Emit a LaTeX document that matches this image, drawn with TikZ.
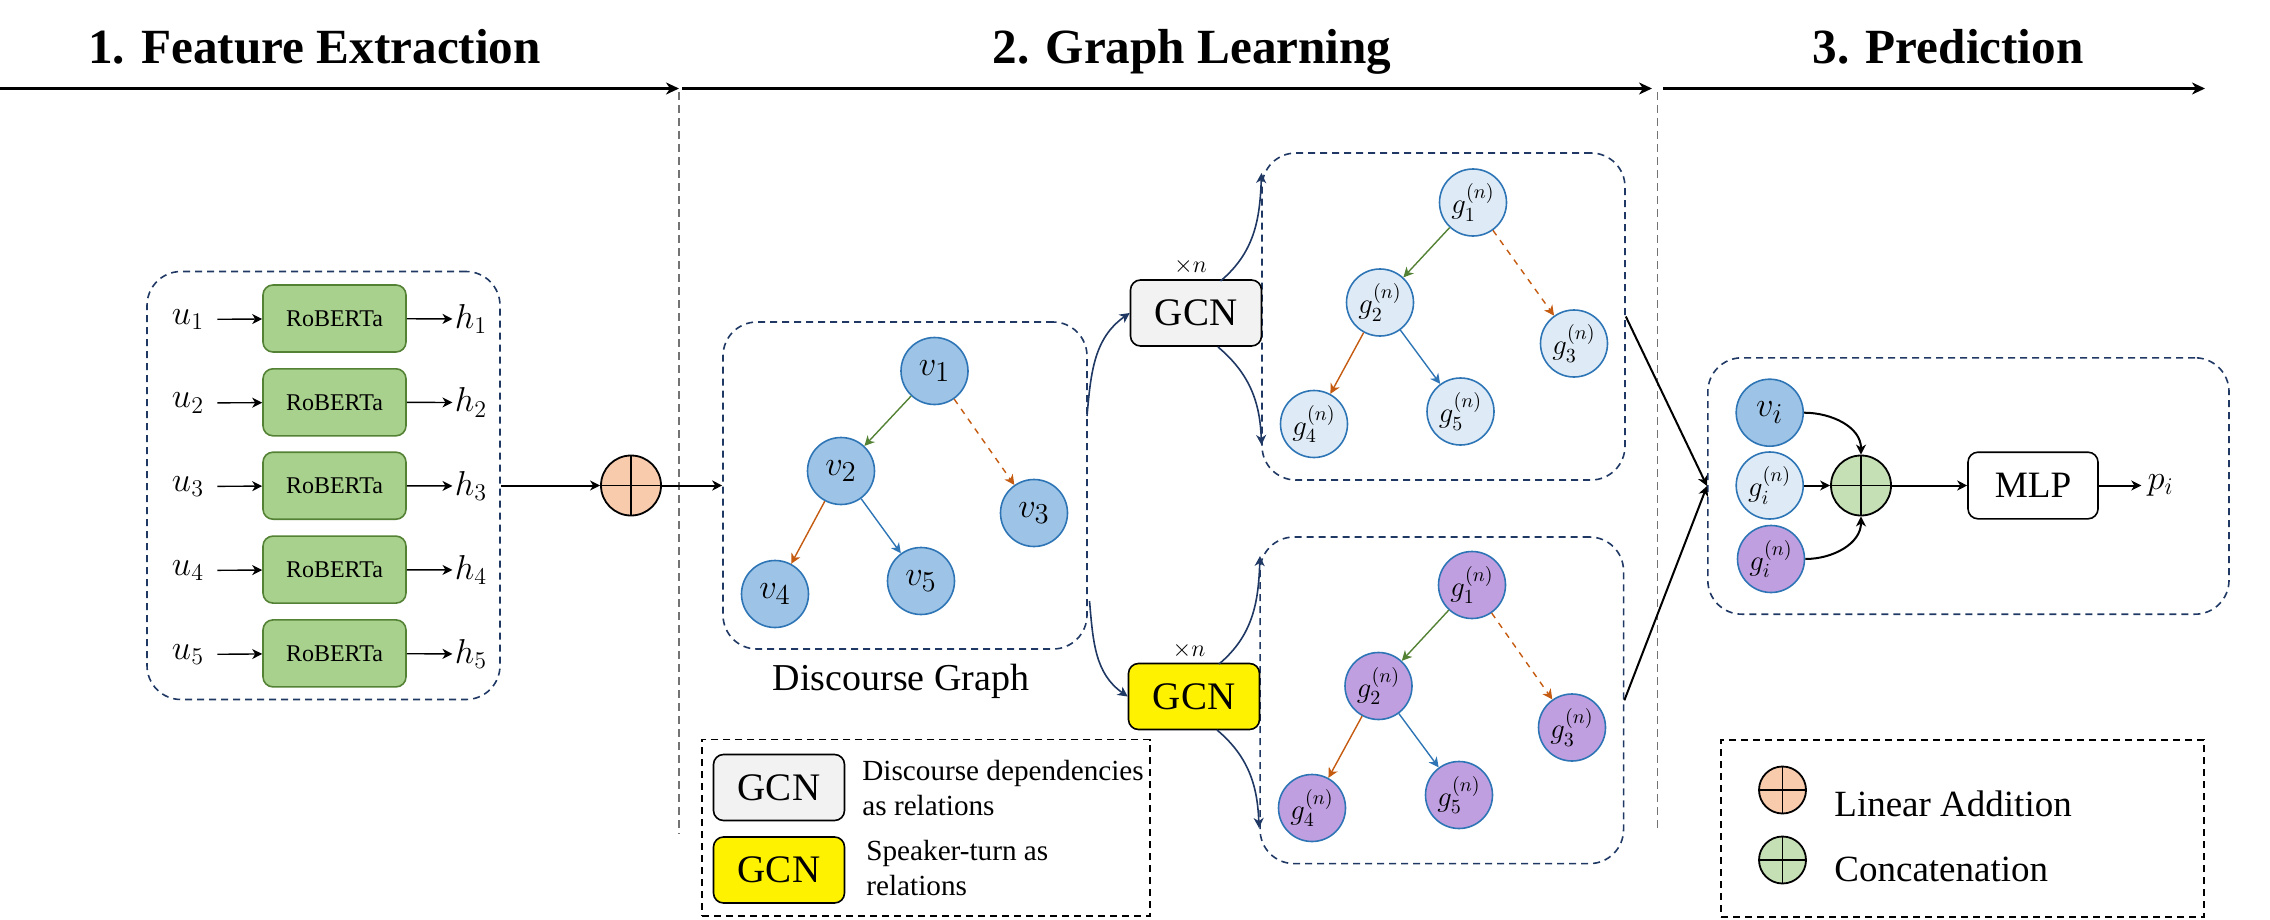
\documentclass[tikz,border=0pt]{standalone}
\usepackage{amsmath,amssymb}
\usepackage{fontspec}
\setmainfont{Liberation Serif}
\usetikzlibrary{arrows.meta}
\definecolor{boxNavy}{HTML}{203864}
\definecolor{nodeBlue}{HTML}{9DC3E6}
\definecolor{nodeLight}{HTML}{DEEBF7}
\definecolor{nodePurple}{HTML}{BF9FE0}
\definecolor{lineBlue}{HTML}{2E75B6}
\definecolor{lineGreen}{HTML}{548235}
\definecolor{lineOrange}{HTML}{C55A11}
\definecolor{bertGreen}{HTML}{A9D18E}
\definecolor{plusOrange}{HTML}{F8CBAD}
\definecolor{plusGreen}{HTML}{C5E0B4}
\begin{document}
\begin{tikzpicture}[
		x=0.5pt, y=-0.5pt,
		heading/.style={anchor=base, inner sep=0pt, font=\fontsize{24.6}{28}\selectfont\bfseries},
		headArrow/.style={-{Stealth[length=6.5pt, width=6pt, inset=2pt]}, line width=1.2pt},
		divider/.style={dash pattern=on 4pt off 2.5pt, draw=black!55, line width=0.7pt},
		regionBox/.style={rectangle, rounded corners=17pt, draw=boxNavy, dash pattern=on 3.5pt off 2.5pt, line width=0.8pt},
		legendBox/.style={rectangle, draw=black, dash pattern=on 3.5pt off 2.5pt, line width=0.8pt},
		bertBox/.style={rectangle, rounded corners=5pt, draw=lineGreen, fill=bertGreen, line width=0.8pt, minimum width=71.5pt, minimum height=33.5pt, inner sep=0pt, font=\fontsize{12}{14}\selectfont},
		gcnBox/.style={rectangle, rounded corners=5pt, draw=black, line width=0.8pt, minimum width=65.5pt, minimum height=33pt, inner sep=0pt, font=\fontsize{19.5}{22}\selectfont},
		treeNode/.style={circle, draw=lineBlue, line width=0.8pt, inner sep=0pt, minimum size=33.5pt},
		nodeV/.style={treeNode, fill=nodeBlue, font=\fontsize{19}{22}\selectfont},
		nodeG/.style={treeNode, fill=nodeLight, font=\fontsize{14.5}{16}\selectfont},
		nodeP/.style={treeNode, fill=nodePurple, font=\fontsize{14.5}{16}\selectfont},
		plusNode/.style={circle, draw=black, line width=0.9pt, inner sep=0pt, minimum size=#1,
			path picture={
				\draw [line width=0.9pt] (path picture bounding box.north) to (path picture bounding box.south);
				\draw [line width=0.9pt] (path picture bounding box.west) to (path picture bounding box.east);
			}},
		inLabel/.style={inner sep=6.5pt, font=\fontsize{17.5}{20}\selectfont},
		outLabel/.style={inner sep=1pt, font=\fontsize{17.5}{20}\selectfont},
		legendText/.style={anchor=west, align=left, inner sep=0pt, font=\fontsize{14.6}{17.5}\selectfont},
		legendItem/.style={anchor=west, inner sep=0pt, font=\fontsize{18.5}{22}\selectfont},
		repeatLabel/.style={inner sep=0pt, font=\fontsize{11.5}{13}\selectfont},
		edgeBase/.style={-{Stealth[length=5pt, width=5pt, inset=1.5pt]}, line width=0.7pt},
		flow/.style={edgeBase, line width=0.8pt, draw=boxNavy},
		mainFlow/.style={edgeBase, line width=1pt}
	]

	\useasboundingbox (0,0) rectangle (2270,920);

	\node[heading] (title1) at (314.5,64) {1. Feature Extraction};
	\node[heading] (title2) at (1192,64) {2. Graph Learning};
	\node[heading] (title3) at (1948,64) {3. Prediction};

	\coordinate (arrow1a) at (0,88.5);
	\coordinate (arrow1b) at (679,88.5);
	\coordinate (arrow2a) at (682,88.5);
	\coordinate (arrow2b) at (1652,88.5);
	\coordinate (arrow3a) at (1663,88.5);
	\coordinate (arrow3b) at (2205,88.5);
	\coordinate (divider1a) at (679,92);
	\coordinate (divider1b) at (679,834);
	\coordinate (divider2a) at (1657.7,92);
	\coordinate (divider2b) at (1657.7,828);

	\draw [headArrow] (arrow1a) to (arrow1b);
	\draw [headArrow] (arrow2a) to (arrow2b);
	\draw [headArrow] (arrow3a) to (arrow3b);
	\draw [divider] (divider1a) to (divider1b);
	\draw [divider] (divider2a) to (divider2b);

	\node[regionBox, minimum width=176.5pt, minimum height=214pt] (boxFeature) at (323.5,485.5) {};
	\node[regionBox, minimum width=182pt, minimum height=163.5pt] (boxDiscourse) at (905,485.5) {};
	\node[regionBox, minimum width=181.5pt, minimum height=163.5pt] (boxGraphA) at (1443.5,316.5) {};
	\node[regionBox, minimum width=181.75pt, minimum height=163.3pt] (boxGraphB) at (1441.8,700.3) {};
	\node[regionBox, minimum width=260.6pt, minimum height=128.2pt] (boxResult) at (1968.4,486) {};
	\node[legendBox, minimum width=224pt, minimum height=88.2pt] (legendLeft) at (926,827.8) {};
	\node[legendBox, minimum width=241.5pt, minimum height=88.5pt] (legendRight) at (1962.5,828.5) {};

	\node[bertBox] (bert1) at (334.5,318.5) {RoBERTa};
	\node[bertBox] (bert2) at (334.5,402.3) {RoBERTa};
	\node[bertBox] (bert3) at (334.5,485.7) {RoBERTa};
	\node[bertBox] (bert4) at (334.5,569.6) {RoBERTa};
	\node[bertBox] (bert5) at (334.5,653.4) {RoBERTa};

	\node[inLabel] (u1) at (188,319.5) {$u_1$};
	\node[inLabel] (u2) at (188,403) {$u_2$};
	\node[inLabel] (u3) at (188,486.5) {$u_3$};
	\node[inLabel] (u4) at (188,570.5) {$u_4$};
	\node[inLabel] (u5) at (188,654.5) {$u_5$};
	\node[outLabel] (h1) at (471,319) {$h_1$};
	\node[outLabel] (h2) at (471,402.5) {$h_2$};
	\node[outLabel] (h3) at (471,486) {$h_3$};
	\node[outLabel] (h4) at (471,570) {$h_4$};
	\node[outLabel] (h5) at (471,654) {$h_5$};

	\draw [edgeBase] (u1) to (bert1);
	\draw [edgeBase] (u2) to (bert2);
	\draw [edgeBase] (u3) to (bert3);
	\draw [edgeBase] (u4) to (bert4);
	\draw [edgeBase] (u5) to (bert5);
	\draw [edgeBase] (bert1) to (h1);
	\draw [edgeBase] (bert2) to (h2);
	\draw [edgeBase] (bert3) to (h3);
	\draw [edgeBase] (bert4) to (h4);
	\draw [edgeBase] (bert5) to (h5);

	\node[plusNode=30pt, fill=plusOrange] (plusAdd) at (631,485.5) {};
	\draw [mainFlow] (boxFeature.east) to (plusAdd);
	\draw [mainFlow] (plusAdd) to (boxDiscourse.west);

	\node[nodeV] (v1) at (934.5,371) {$v_1$};
	\node[nodeV] (v2) at (841,471) {$v_2$};
	\node[nodeV] (v3) at (1034,513) {$v_3$};
	\node[nodeV] (v4) at (775,594) {$v_4$};
	\node[nodeV] (v5) at (921,581) {$v_5$};
	\node[inner sep=0pt, font=\fontsize{19}{23}\selectfont] (labelDiscourse) at (901,681) {Discourse Graph};

	\draw [edgeBase, draw=lineGreen] (v1) to (v2);
	\draw [edgeBase, draw=lineOrange, dashed] (v1) to (v3);
	\draw [edgeBase, draw=lineOrange] (v2) to (v4);
	\draw [edgeBase, draw=lineBlue] (v2) to (v5);

	\node[gcnBox, fill=black!5] (gcnA) at (1196,313) {GCN};
	\node[gcnBox, fill=yellow] (gcnB) at (1194,696.5) {GCN};
	\node[repeatLabel] (repeatA) at (1190.5,266) {$\times n$};
	\node[repeatLabel] (repeatB) at (1189,650) {$\times n$};

	\coordinate (flowA) at (1087,416);
	\coordinate (flowB) at (1089.5,601);
	\coordinate (gcnAtop) at (1220.5,281);
	\coordinate (gcnAbot) at (1218,347);
	\coordinate (gcnBtop) at (1219,664);
	\coordinate (gcnBbot) at (1217,730);
	\coordinate (graphAtop) at (1261.5,173);
	\coordinate (graphAbot) at (1261.5,445);
	\coordinate (graphBtop) at (1260,556);
	\coordinate (graphBbot) at (1259,828);

	\draw [flow] (flowA) to[out=85, in=215] (gcnA.west);
	\draw [flow] (flowB) to[out=-85, in=145] (gcnB.west);
	\draw [flow] (gcnAtop) to[out=40, in=-92] (graphAtop);
	\draw [flow] (gcnAbot) to[out=-40, in=92] (graphAbot);
	\draw [flow] (gcnBtop) to[out=40, in=-92] (graphBtop);
	\draw [flow] (gcnBbot) to[out=-40, in=92] (graphBbot);

	\node[nodeG] (gA1) at (1473,202.5) {$g_1^{(n)}$};
	\node[nodeG] (gA2) at (1380,302.5) {$g_2^{(n)}$};
	\node[nodeG] (gA3) at (1574,343.5) {$g_3^{(n)}$};
	\node[nodeG] (gA4) at (1314,424) {$g_4^{(n)}$};
	\node[nodeG] (gA5) at (1460.5,411.5) {$g_5^{(n)}$};
	\draw [edgeBase, draw=lineGreen] (gA1) to (gA2);
	\draw [edgeBase, draw=lineOrange, dashed] (gA1) to (gA3);
	\draw [edgeBase, draw=lineOrange] (gA2) to (gA4);
	\draw [edgeBase, draw=lineBlue] (gA2) to (gA5);

	\node[nodeP] (gB1) at (1472,585) {$g_1^{(n)}$};
	\node[nodeP] (gB2) at (1378.5,686) {$g_2^{(n)}$};
	\node[nodeP] (gB3) at (1572,727.5) {$g_3^{(n)}$};
	\node[nodeP] (gB4) at (1312,808) {$g_4^{(n)}$};
	\node[nodeP] (gB5) at (1459,795) {$g_5^{(n)}$};
	\draw [edgeBase, draw=lineGreen] (gB1) to (gB2);
	\draw [edgeBase, draw=lineOrange, dashed] (gB1) to (gB3);
	\draw [edgeBase, draw=lineOrange] (gB2) to (gB4);
	\draw [edgeBase, draw=lineBlue] (gB2) to (gB5);

	\draw [mainFlow] (boxGraphA.east) to (boxResult.west);
	\draw [mainFlow] (boxGraphB.east) to (boxResult.west);

	\node[nodeV] (vi) at (1769.7,412.7) {$v_i$};
	\node[nodeG] (gi) at (1769.7,485.5) {$g_i^{(n)}$};
	\node[nodeP] (gj) at (1771,559) {$g_i^{(n)}$};
	\node[plusNode=30pt, fill=plusGreen] (plusConcat) at (1861,485.5) {};
	\node[gcnBox, minimum width=65pt, minimum height=33.3pt, fill=white, font=\fontsize{18.6}{22}\selectfont] (mlp) at (2033,485.5) {MLP};
	\node[outLabel, inner sep=3pt] (pi) at (2160.7,485.5) {$p_i$};

	\draw [mainFlow] (vi.east) to[out=0, in=90] (plusConcat.north);
	\draw [mainFlow] (gi.east) to (plusConcat.west);
	\draw [mainFlow] (gj.east) to[out=0, in=-90] (plusConcat.south);
	\draw [mainFlow] (plusConcat) to (mlp);
	\draw [mainFlow] (mlp) to (pi);

	\node[gcnBox, fill=black!5] (legendGcnA) at (779,787.5) {GCN};
	\node[gcnBox, fill=yellow] (legendGcnB) at (779,870) {GCN};
	\node[legendText] (legendTextA) at (862,788) {Discourse dependencies\\as relations};
	\node[legendText] (legendTextB) at (866,868.5) {Speaker-turn as\\relations};

	\node[plusNode=23.5pt, fill=plusOrange] (legendAdd) at (1782.5,790) {};
	\node[plusNode=23.5pt, fill=plusGreen] (legendConcat) at (1782.5,860) {};
	\node[legendItem] (legendAddText) at (1834,804) {Linear Addition};
	\node[legendItem] (legendConcatText) at (1834,869) {Concatenation};
\end{tikzpicture}
\end{document}
